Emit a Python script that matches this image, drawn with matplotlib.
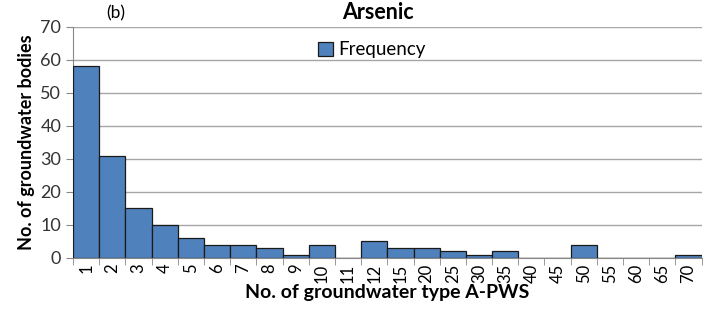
import numpy as np
import matplotlib.pyplot as plt

plt.rcParams['font.family'] = ['Lato', 'DejaVu Sans']

# categories on the x axis (no. of groundwater type A-PWS)
categories = ["1", "2", "3", "4", "5", "6", "7", "8", "9", "10", "11", "12",
              "15", "20", "25", "30", "35", "40", "45", "50", "55", "60", "65", "70"]
# frequency of groundwater bodies
frequency = [58, 31, 15, 10, 6, 4, 4, 3, 1, 4, 0, 5,
             3, 3, 2, 1, 2, 0, 0, 4, 0, 0, 0, 1]
y_ticks = [0, 10, 20, 30, 40, 50, 60, 70]

fig = plt.figure(figsize=(7.03, 3.16), dpi=100)
ax = fig.add_axes([0.104, 0.184, 0.894, 0.731])

x = np.arange(len(categories))
ax.bar(x, frequency, width=1.0, color="#4F81BD", edgecolor="#1a1a1a",
       linewidth=0.9, label="Frequency", zorder=3)

ax.set_xlim(-0.5, len(categories) - 0.5)
ax.set_ylim(0, 70)
ax.set_yticks(y_ticks)
ax.yaxis.grid(True, color="#a6a6a6", linewidth=1.0, zorder=0)

ax.set_xticks(x)
ax.set_xticklabels(categories, rotation=90, fontsize=12)
ax.set_xticks(np.arange(len(categories) + 1) - 0.5, minor=True)
ax.tick_params(axis="x", which="major", length=0, pad=4)
ax.tick_params(axis="x", which="minor", length=5, color="#888888")
ax.tick_params(axis="y", length=5, color="#888888", labelsize=13, labelcolor="#333333")

for s in ["top", "right"]:
    ax.spines[s].set_visible(False)
ax.spines["left"].set_color("#888888")
ax.spines["bottom"].set_color("#888888")

ax.set_ylabel("No. of groundwater bodies", fontsize=13, fontweight="bold", labelpad=4)
ax.set_xlabel("No. of groundwater type A-PWS", fontsize=14, fontweight="bold", labelpad=1)

fig.text(0.538, 0.928, "Arsenic", ha="center", va="bottom", fontsize=15.5, fontweight="bold")
fig.text(0.165, 0.932, "(b)", ha="center", va="bottom", fontsize=12.5)

ax.legend(loc="upper center", bbox_to_anchor=(0.475, 1.01), frameon=False,
          fontsize=13.5, handlelength=0.8, handleheight=0.8, handletextpad=0.3)

fig.savefig("out.png", dpi=100)
